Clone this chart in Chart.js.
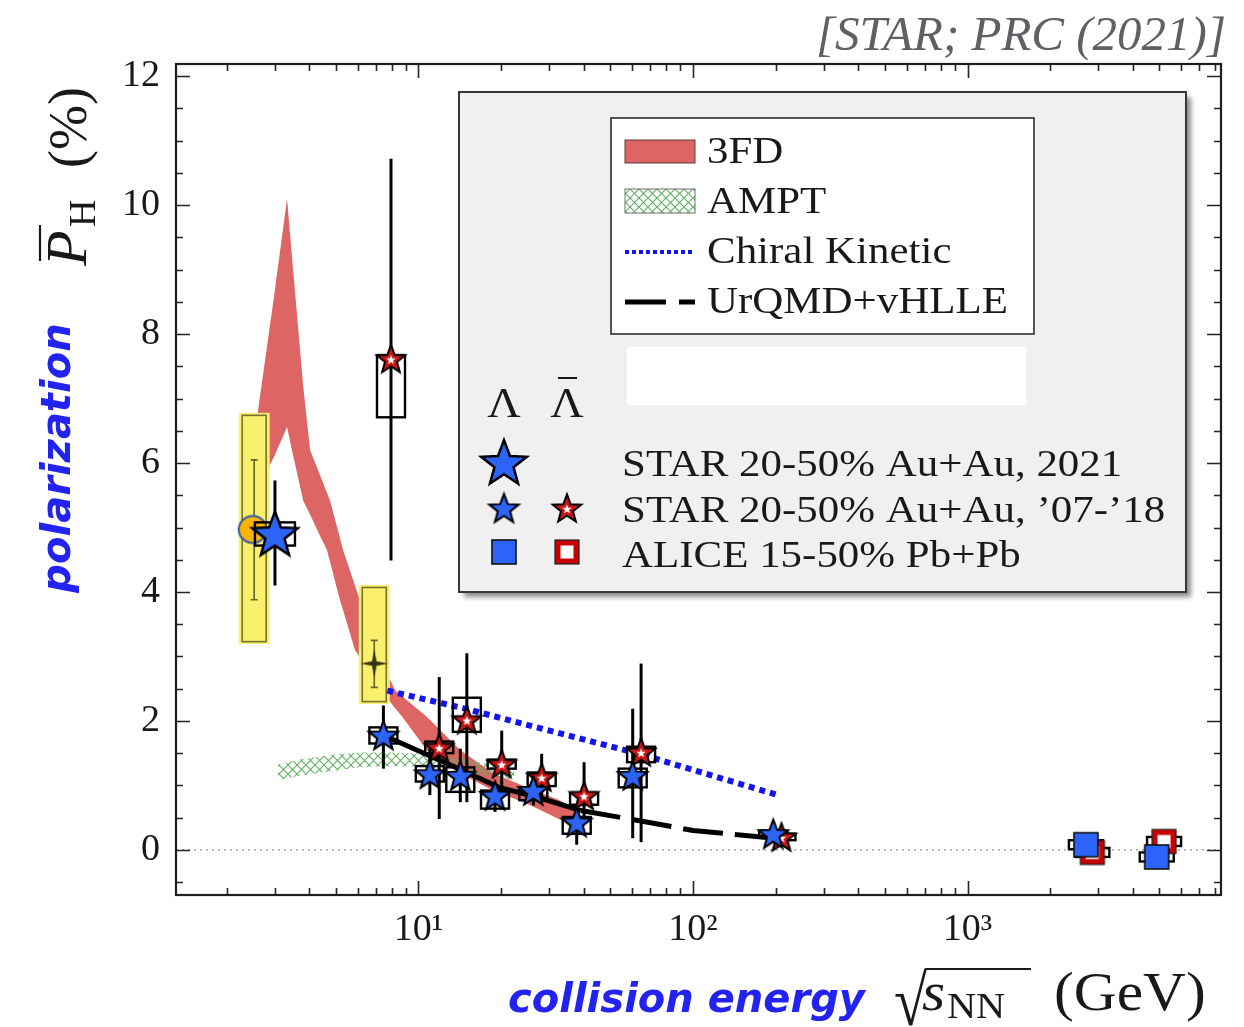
<!DOCTYPE html>
<html>
<head>
<meta charset="utf-8">
<script src="https://cdn.jsdelivr.net/npm/chart.js@4.4.1/dist/chart.umd.min.js"></script>
<style>
html,body{margin:0;padding:0;background:#fff;}
#wrap{width:1244px;height:1027px;position:relative;}
</style>
</head>
<body>
<div id="wrap"><canvas id="c"></canvas></div>
<script>
// ---------------- data ----------------
const xMajorValues = [10, 100, 1000];
const xMajorLabels = ['10¹', '10²', '10³'];
const yTickValues = [0, 2, 4, 6, 8, 10, 12];

// 3FD band (upper / lower edge)
const fdEnergy = [2.6, 2.98, 3.32, 3.46, 3.61, 3.80, 4.03, 4.38, 4.64, 4.76, 5.18, 5.31, 5.87, 6.12, 6.94, 7.24, 7.87, 8.21, 8.78, 10.74, 14.17, 18.7, 24.8, 32.7, 37.2];
const fdUpper  = [6.8, 8.6, 10.1, 9.2, 8.3, 7.2, 6.2, 5.81, 5.54, 5.42, 4.83, 4.65, 4.1, 3.87, 3.1, 2.95, 2.64, 2.48, 2.37, 2.06, 1.55, 1.19, 0.97, 0.77, 0.62];
const fdLower  = [5.6, 6.1, 6.56, 6.2, 5.85, 5.42, 5.2, 4.87, 4.65, 4.47, 3.87, 3.72, 3.1, 2.98, 2.6, 2.48, 2.3, 2.2, 2.05, 1.54, 1.19, 0.92, 0.72, 0.47, 0.45];

// AMPT band
const amptEnergy = [3.07, 3.7, 4.77, 6.12, 7.87, 10.1, 13.0, 16.7, 22.4];
const amptUpper  = [1.32, 1.40, 1.47, 1.51, 1.51, 1.49, 1.44, 1.36, 1.26];
const amptLower  = [1.08, 1.15, 1.22, 1.28, 1.30, 1.29, 1.24, 1.17, 1.08];

// Chiral Kinetic
const ckEnergy = [7.7, 14.5, 27, 62.4, 200];
const ckPol    = [2.47, 2.2, 1.9, 1.5, 0.86];

// UrQMD+vHLLE
const urEnergy = [7.7, 14.5, 19.6, 27, 39, 62.4, 100, 200];
const urPol    = [1.75, 1.23, 0.97, 0.82, 0.61, 0.46, 0.30, 0.18];

// STAR 2021 (Lambda, 3 GeV)
const s21Energy = [3.0];
const s21Pol    = [4.91];
const s21ErrLo  = [4.10];
const s21ErrHi  = [5.73];
const s21SysLo  = [4.72];
const s21SysHi  = [5.08];

// STAR '07-'18 Lambda
const lamEnergy = [7.45, 11.0, 14.2, 19.0, 26.2, 37.7, 60.3, 196];
const lamPol    = [1.78, 1.18, 1.155, 0.845, 0.92, 0.43, 1.155, 0.25];
const lamErrLo  = [1.26, 0.85, 0.74, 0.59, 0.69, 0.08, 0.18, 0.17];
const lamErrHi  = [2.24, 1.57, 1.57, 1.03, 1.13, 0.64, 2.19, 0.33];
const lamSysLo  = [1.65, 1.06, 0.90, 0.64, 0.77, 0.25, 0.97, 0.20];
const lamSysHi  = [1.90, 1.30, 1.28, 0.92, 0.97, 0.51, 1.26, 0.30];

// STAR '07-'18 anti-Lambda
const alamEnergy = [7.94, 11.9, 15.0, 20.1, 28.1, 40.1, 64.7, 210];
const alamPol    = [7.62, 1.59, 2.02, 1.336, 1.13, 0.845, 1.52, 0.20];
const alamErrLo  = [4.49, 0.48, 0.74, 0.82, 0.77, 0.46, 0.12, 0.12];
const alamErrHi  = [10.72, 2.68, 3.05, 1.85, 1.49, 1.36, 2.89, 0.28];
const alamSysLo  = [6.71, 1.50, 1.83, 1.26, 0.99, 0.70, 1.36, 0.15];
const alamSysHi  = [7.67, 1.68, 2.36, 1.40, 1.20, 0.88, 1.60, 0.25];

// highlighted low-energy points (yellow boxes)
const hlEnergy = [2.52, 6.9];
const hlErrLo  = [3.88, 2.52];
const hlErrHi  = [6.05, 3.25];
const hlSysLo  = [3.23, 2.30];
const hlSysHi  = [6.74, 4.07];
const circleEnergy = [2.49];
const circlePol    = [4.97];
const sparkleEnergy = [6.9];
const sparklePol    = [2.89];

// ALICE
const aliceLamEnergy  = [2700, 4890];
const aliceLamPol     = [0.08, -0.11];
const aliceLamSysLo   = [0.01, -0.18];
const aliceLamSysHi   = [0.15, -0.04];
const aliceAlamEnergy = [2850, 5200];
const aliceAlamPol    = [-0.04, 0.13];
const aliceAlamSysLo  = [-0.11, 0.06];
const aliceAlamSysHi  = [0.03, 0.20];

// ---------------- styles ----------------
const X_MIN = 1.308, X_MAX = 8384, Y_MIN = -0.70, Y_MAX = 12.19;
const BLUE = 'rgb(45,100,248)';
const RED = 'rgb(205,22,22)';
const BAND_RED = 'rgb(221,102,100)';
const SERIF = '"Liberation Serif", "Times New Roman", serif';
const SANS_BI = '"DejaVu Sans", Verdana, sans-serif';
const TXT = 'rgb(25,25,25)';

function starPath(g, cx, cy, R, r, n) {
  g.beginPath();
  for (let i = 0; i < 2 * n; i++) {
    const a = -Math.PI / 2 + i * Math.PI / n;
    const rad = (i % 2) ? r : R;
    const px = cx + rad * Math.cos(a), py = cy + rad * Math.sin(a);
    if (i === 0) g.moveTo(px, py); else g.lineTo(px, py);
  }
  g.closePath();
}
function makeCanvas(size, fn) {
  const c = document.createElement('canvas');
  c.width = size; c.height = size;
  fn(c.getContext('2d'), size / 2);
  return c;
}
function makeStar(R, fill, lw, white) {
  return makeCanvas(Math.ceil(2 * R + 16), (g, c) => {
    starPath(g, c, c + R * 0.09, R, R * 0.42, 5);
    g.fillStyle = fill; g.fill();
    g.lineWidth = lw; g.strokeStyle = '#000'; g.lineJoin = 'miter'; g.stroke();
    if (white) {
      starPath(g, c, c + R * 0.09, R * 0.32, R * 0.14, 5);
      g.fillStyle = '#fff'; g.fill();
    }
  });
}
const bigStarImg = makeStar(24, BLUE, 2.5, false);
const blueStarImg = makeStar(15.5, BLUE, 2, false);
const redStarImg = makeStar(15, RED, 2, true);
const blueSqImg = makeCanvas(30, (g, c) => {
  g.fillStyle = BLUE; g.fillRect(c - 12, c - 12, 24, 24);
  g.lineWidth = 1.6; g.strokeStyle = '#111'; g.strokeRect(c - 12, c - 12, 24, 24);
});
const redSqImg = makeCanvas(30, (g, c) => {
  g.fillStyle = 'rgb(200,0,0)'; g.fillRect(c - 12, c - 12, 24, 24);
  g.fillStyle = '#fff'; g.fillRect(c - 6.5, c - 6.5, 13, 13);
  g.lineWidth = 1.2; g.strokeStyle = '#222'; g.strokeRect(c - 12, c - 12, 24, 24);
});
const circleImg = makeCanvas(34, (g, c) => {
  g.beginPath(); g.ellipse(c, c, 14, 13.5, 0, 0, Math.PI * 2);
  g.fillStyle = 'rgb(250,180,0)'; g.fill();
  g.lineWidth = 2; g.strokeStyle = 'rgb(50,90,170)'; g.stroke();
});
const sparkleImg = makeCanvas(34, (g, c) => {
  starPath(g, c, c, 14, 3.2, 4);
  g.fillStyle = 'rgb(55,50,20)'; g.fill();
});
const hatch = (() => {
  const c = document.createElement('canvas'); c.width = 9; c.height = 9;
  const g = c.getContext('2d');
  g.strokeStyle = 'rgb(95,175,95)'; g.lineWidth = 1.1;
  g.beginPath(); g.moveTo(0, 0); g.lineTo(9, 9); g.moveTo(9, 0); g.lineTo(0, 9); g.stroke();
  return g.createPattern(c, 'repeat');
})();

const pts = (xs, ys) => xs.map((x, i) => ({ x, y: ys[i] }));

// ---------------- custom drawing ----------------
function sText(ctx, txt, x, y, font, color, sx, align) {
  ctx.save();
  ctx.font = font; ctx.fillStyle = color; ctx.textBaseline = 'alphabetic';
  ctx.textAlign = align || 'left';
  ctx.translate(x, y); ctx.scale(sx || 1, 1);
  ctx.fillText(txt, 0, 0);
  ctx.restore();
}

function drawHighlights(chart) {
  const ctx = chart.ctx, xs = chart.scales.x, ys = chart.scales.y;
  ctx.save();
  hlEnergy.forEach((e, i) => {
    const px = xs.getPixelForValue(e);
    const yT = ys.getPixelForValue(hlSysHi[i]), yB = ys.getPixelForValue(hlSysLo[i]);
    ctx.fillStyle = 'rgb(249,241,108)';
    ctx.fillRect(px - 15.5, yT - 2.5, 31, yB - yT + 5);
    ctx.strokeStyle = 'rgb(120,112,55)'; ctx.lineWidth = 1.6;
    ctx.strokeRect(px - 12, yT, 24, yB - yT);
    const eT = ys.getPixelForValue(hlErrHi[i]), eB = ys.getPixelForValue(hlErrLo[i]);
    ctx.strokeStyle = 'rgb(105,98,50)'; ctx.lineWidth = 1.6;
    ctx.beginPath();
    ctx.moveTo(px, eT); ctx.lineTo(px, eB);
    ctx.moveTo(px - 3.5, eT); ctx.lineTo(px + 3.5, eT);
    ctx.moveTo(px - 3.5, eB); ctx.lineTo(px + 3.5, eB);
    ctx.stroke();
  });
  ctx.restore();
}

function drawBars(chart, E, eLo, eHi, sLo, sHi, boxW) {
  const ctx = chart.ctx, xs = chart.scales.x, ys = chart.scales.y;
  ctx.save();
  ctx.strokeStyle = '#000';
  E.forEach((e, i) => {
    const px = xs.getPixelForValue(e);
    if (eLo) {
      ctx.lineWidth = 3;
      ctx.beginPath();
      ctx.moveTo(px, ys.getPixelForValue(eHi[i]));
      ctx.lineTo(px, ys.getPixelForValue(eLo[i]));
      ctx.stroke();
    }
    const yT = ys.getPixelForValue(sHi[i]), yB = ys.getPixelForValue(sLo[i]);
    ctx.lineWidth = 2.4;
    ctx.strokeRect(px - boxW / 2, yT, boxW, yB - yT);
  });
  ctx.restore();
}

function drawLegend(ctx) {
  ctx.save();
  ctx.shadowColor = 'rgba(0,0,0,0.45)'; ctx.shadowBlur = 5; ctx.shadowOffsetX = 5; ctx.shadowOffsetY = 5;
  ctx.fillStyle = 'rgb(240,240,240)';
  ctx.fillRect(459, 92, 727, 500);
  ctx.shadowColor = 'transparent';
  ctx.lineWidth = 2; ctx.strokeStyle = 'rgb(55,55,55)';
  ctx.strokeRect(459, 92, 727, 500);
  ctx.fillStyle = '#fff'; ctx.fillRect(611, 118, 423, 216);
  ctx.lineWidth = 1.6; ctx.strokeStyle = 'rgb(45,45,45)'; ctx.strokeRect(611, 118, 423, 216);
  ctx.fillStyle = BAND_RED; ctx.fillRect(625, 140, 70, 23);
  ctx.lineWidth = 1; ctx.strokeStyle = 'rgb(90,60,60)'; ctx.strokeRect(625, 140, 70, 23);
  ctx.fillStyle = '#fff'; ctx.fillRect(625, 189, 70, 24);
  ctx.fillStyle = hatch; ctx.fillRect(625, 189, 70, 24);
  ctx.strokeStyle = 'rgb(110,110,110)'; ctx.strokeRect(625, 189, 70, 24);
  ctx.strokeStyle = 'rgb(20,20,235)'; ctx.lineWidth = 4; ctx.setLineDash([4, 3]);
  ctx.beginPath(); ctx.moveTo(625, 252); ctx.lineTo(695, 252); ctx.stroke();
  ctx.setLineDash([]);
  ctx.strokeStyle = '#000'; ctx.lineWidth = 5;
  ctx.beginPath(); ctx.moveTo(625, 302); ctx.lineTo(666, 302); ctx.moveTo(679, 302); ctx.lineTo(695, 302); ctx.stroke();
  const f = '38px ' + SERIF;
  sText(ctx, '3FD', 707, 163, f, TXT, 1.13);
  sText(ctx, 'AMPT', 707, 213, f, TXT, 1.13);
  sText(ctx, 'Chiral Kinetic', 707, 263, f, TXT, 1.13);
  sText(ctx, 'UrQMD+vHLLE', 707, 313, f, TXT, 1.13);
  ctx.fillStyle = '#fff'; ctx.fillRect(627, 347, 399, 58);
  sText(ctx, 'Λ', 504, 417, '42px ' + SERIF, TXT, 1.1, 'center');
  sText(ctx, 'Λ', 567, 417, '42px ' + SERIF, TXT, 1.1, 'center');
  ctx.strokeStyle = TXT; ctx.lineWidth = 2;
  ctx.beginPath(); ctx.moveTo(558, 378); ctx.lineTo(577, 378); ctx.stroke();
  ctx.drawImage(bigStarImg, 504 - bigStarImg.width / 2, 462 - bigStarImg.height / 2);
  ctx.drawImage(blueStarImg, 504 - blueStarImg.width / 2, 508 - blueStarImg.height / 2);
  ctx.drawImage(redStarImg, 567 - redStarImg.width / 2, 508 - redStarImg.height / 2);
  ctx.drawImage(blueSqImg, 504 - blueSqImg.width / 2, 552 - blueSqImg.height / 2);
  ctx.drawImage(redSqImg, 567 - redSqImg.width / 2, 552 - redSqImg.height / 2);
  sText(ctx, 'STAR 20-50% Au+Au, 2021', 622, 476, f, TXT, 1.13);
  sText(ctx, 'STAR 20-50% Au+Au, ’07-’18', 622, 522, f, TXT, 1.13);
  sText(ctx, 'ALICE 15-50% Pb+Pb', 622, 567, f, TXT, 1.13);
  ctx.restore();
}

function drawTitles(ctx) {
  sText(ctx, '[STAR; PRC (2021)]', 1226, 50, 'italic 49px ' + SERIF, 'rgb(95,95,100)', 1, 'right');
  ctx.save();
  ctx.translate(86, 266); ctx.rotate(-Math.PI / 2);
  ctx.fillStyle = TXT; ctx.textBaseline = 'alphabetic'; ctx.textAlign = 'left';
  ctx.font = 'italic 58px ' + SERIF; ctx.fillText('P', 0, 0);
  ctx.strokeStyle = TXT; ctx.lineWidth = 2.2;
  ctx.beginPath(); ctx.moveTo(5, -46); ctx.lineTo(41, -46); ctx.stroke();
  ctx.font = '38px ' + SERIF; ctx.fillText('H', 39, 9);
  ctx.font = '54px ' + SERIF; ctx.fillText('(%)', 98, 0);
  ctx.restore();
  ctx.save();
  ctx.translate(70, 458); ctx.rotate(-Math.PI / 2);
  ctx.font = 'italic bold 40px ' + SANS_BI; ctx.fillStyle = 'rgb(35,35,240)';
  ctx.textAlign = 'center'; ctx.textBaseline = 'alphabetic';
  ctx.fillText('polarization', 0, 0);
  ctx.restore();
  sText(ctx, 'collision energy', 508, 1012, 'italic bold 40px ' + SANS_BI, 'rgb(35,35,240)', 1, 'left');
  ctx.save();
  ctx.font = '60px ' + SERIF;
  const m = ctx.measureText('√');
  const gw = m.actualBoundingBoxRight + m.actualBoundingBoxLeft;
  const gh = m.actualBoundingBoxAscent + m.actualBoundingBoxDescent;
  ctx.translate(895, 968); ctx.scale(32 / gw, 58 / gh);
  ctx.fillStyle = TXT; ctx.textBaseline = 'alphabetic';
  ctx.fillText('√', m.actualBoundingBoxLeft, m.actualBoundingBoxAscent);
  ctx.restore();
  ctx.save(); ctx.strokeStyle = TXT; ctx.lineWidth = 2;
  ctx.beginPath(); ctx.moveTo(925, 969); ctx.lineTo(1031, 969); ctx.stroke(); ctx.restore();
  sText(ctx, 's', 922, 1010, 'italic 54px ' + SERIF, TXT, 1.1);
  sText(ctx, 'NN', 947, 1018, '36px ' + SERIF, TXT, 1.12);
  sText(ctx, '(GeV)', 1054, 1010, '54px ' + SERIF, TXT, 1.1);
}

function drawFrame(chart) {
  const ctx = chart.ctx, a = chart.chartArea, xs = chart.scales.x, ys = chart.scales.y;
  ctx.save();
  ctx.strokeStyle = 'rgb(35,35,35)'; ctx.lineWidth = 1.6;
  ctx.beginPath();
  for (let d = 1; d <= 1000; d *= 10) {
    for (let k = 1; k <= 9; k++) {
      const v = k * d;
      if (v < X_MIN || v > X_MAX) continue;
      const px = Math.round(xs.getPixelForValue(v)) + 0.5;
      const len = (k === 1) ? 14 : 7;
      ctx.moveTo(px, a.bottom); ctx.lineTo(px, a.bottom - len);
      ctx.moveTo(px, a.top); ctx.lineTo(px, a.top + len);
    }
  }
  for (let v = -0.5; v <= 12; v += 0.5) {
    const py = Math.round(ys.getPixelForValue(v)) + 0.5;
    const len = (Math.abs(v % 2) < 1e-6) ? 14 : 7;
    ctx.moveTo(a.left, py); ctx.lineTo(a.left + len, py);
    ctx.moveTo(a.right, py); ctx.lineTo(a.right - len, py);
  }
  ctx.stroke();
  ctx.lineWidth = 2.2; ctx.strokeStyle = 'rgb(30,30,30)';
  ctx.strokeRect(a.left, a.top, a.right - a.left, a.bottom - a.top);
  ctx.restore();
}

const customPlugin = {
  id: 'custom',
  beforeDraw(chart) {
    const ctx = chart.ctx;
    ctx.save(); ctx.fillStyle = '#fff'; ctx.fillRect(0, 0, chart.width, chart.height); ctx.restore();
  },
  beforeDatasetsDraw(chart) {
    const ctx = chart.ctx, a = chart.chartArea, ys = chart.scales.y;
    const y0 = ys.getPixelForValue(0);
    ctx.save(); ctx.strokeStyle = 'rgb(150,150,150)'; ctx.lineWidth = 1.3; ctx.setLineDash([2, 4]);
    ctx.beginPath(); ctx.moveTo(a.left, y0); ctx.lineTo(a.right, y0); ctx.stroke(); ctx.restore();
  },
  afterDatasetDraw(chart, args) {
    const lbl = chart.data.datasets[args.index].label;
    if (lbl === 'AMPT lower') drawHighlights(chart);
    if (lbl === 'UrQMD+vHLLE') {
      drawBars(chart, alamEnergy, alamErrLo, alamErrHi, alamSysLo, alamSysHi, 28);
      drawBars(chart, lamEnergy, lamErrLo, lamErrHi, lamSysLo, lamSysHi, 28);
      drawBars(chart, s21Energy, s21ErrLo, s21ErrHi, s21SysLo, s21SysHi, 40);
      drawBars(chart, aliceAlamEnergy, null, null, aliceAlamSysLo, aliceAlamSysHi, 34);
      drawBars(chart, aliceLamEnergy, null, null, aliceLamSysLo, aliceLamSysHi, 34);
    }
  },
  afterDraw(chart) {
    drawFrame(chart);
    drawLegend(chart.ctx);
    drawTitles(chart.ctx);
  }
};

const markerDs = (label, E, P, img, order) => ({
  label, data: pts(E, P), showLine: false, pointStyle: img, pointRadius: 12,
  pointHoverRadius: 12, order
});

new Chart(document.getElementById('c'), {
  type: 'line',
  data: {
    datasets: [
      { label: '3FD upper', data: pts(fdEnergy, fdUpper), fill: '+1', backgroundColor: BAND_RED,
        borderWidth: 0, pointRadius: 0, order: 30 },
      { label: '3FD lower', data: pts(fdEnergy, fdLower), fill: false, borderWidth: 0, pointRadius: 0, order: 29 },
      { label: 'AMPT upper', data: pts(amptEnergy, amptUpper), fill: '+1', backgroundColor: hatch,
        borderWidth: 0, pointRadius: 0, order: 28 },
      { label: 'AMPT lower', data: pts(amptEnergy, amptLower), fill: false, borderWidth: 0, pointRadius: 0, order: 27 },
      markerDs('circle', circleEnergy, circlePol, circleImg, 25),
      markerDs('sparkle', sparkleEnergy, sparklePol, sparkleImg, 24),
      { label: 'Chiral Kinetic', data: pts(ckEnergy, ckPol), borderColor: 'rgb(20,20,235)', borderWidth: 6,
        borderDash: [6, 5], borderCapStyle: 'butt', pointRadius: 0, fill: false, order: 20 },
      { label: 'UrQMD+vHLLE', data: pts(urEnergy, urPol), borderColor: '#000', borderWidth: 5,
        borderCapStyle: 'butt', borderJoinStyle: 'round', pointRadius: 0, fill: false, order: 19,
        segment: { borderDash: c => (c.p0.parsed.x >= 38 ? [40, 12] : undefined) } },
      markerDs('ALICE anti-Lambda', aliceAlamEnergy, aliceAlamPol, redSqImg, 8),
      markerDs('ALICE Lambda', aliceLamEnergy, aliceLamPol, blueSqImg, 7),
      markerDs("STAR anti-Lambda '07-'18", alamEnergy, alamPol, redStarImg, 5),
      markerDs("STAR Lambda '07-'18", lamEnergy, lamPol, blueStarImg, 4),
      markerDs('STAR 2021', s21Energy, s21Pol, bigStarImg, 2)
    ]
  },
  options: {
    responsive: true, maintainAspectRatio: false, animation: false,
    layout: { padding: { left: 0, right: 23, top: 64, bottom: 0 } },
    plugins: { legend: { display: false }, tooltip: { enabled: false } },
    events: [],
    scales: {
      x: {
        type: 'logarithmic', min: X_MIN, max: X_MAX, position: 'bottom',
        grid: { display: false, drawTicks: false }, border: { display: false },
        afterBuildTicks: s => { s.ticks = xMajorValues.map(v => ({ value: v })); },
        afterFit: s => { s.height = 132; },
        ticks: {
          autoSkip: false, maxRotation: 0, minRotation: 0, padding: 12, color: TXT,
          font: { family: SERIF, size: 38 },
          callback: v => { const i = xMajorValues.indexOf(v); return i >= 0 ? xMajorLabels[i] : ''; }
        }
      },
      y: {
        type: 'linear', min: Y_MIN, max: Y_MAX,
        grid: { display: false, drawTicks: false }, border: { display: false },
        afterBuildTicks: s => { s.ticks = yTickValues.map(v => ({ value: v })); },
        afterFit: s => { s.width = 176; },
        ticks: { padding: 16, color: TXT, font: { family: SERIF, size: 38 }, callback: v => String(v) }
      }
    }
  },
  plugins: [customPlugin]
});
</script>
</body>
</html>
